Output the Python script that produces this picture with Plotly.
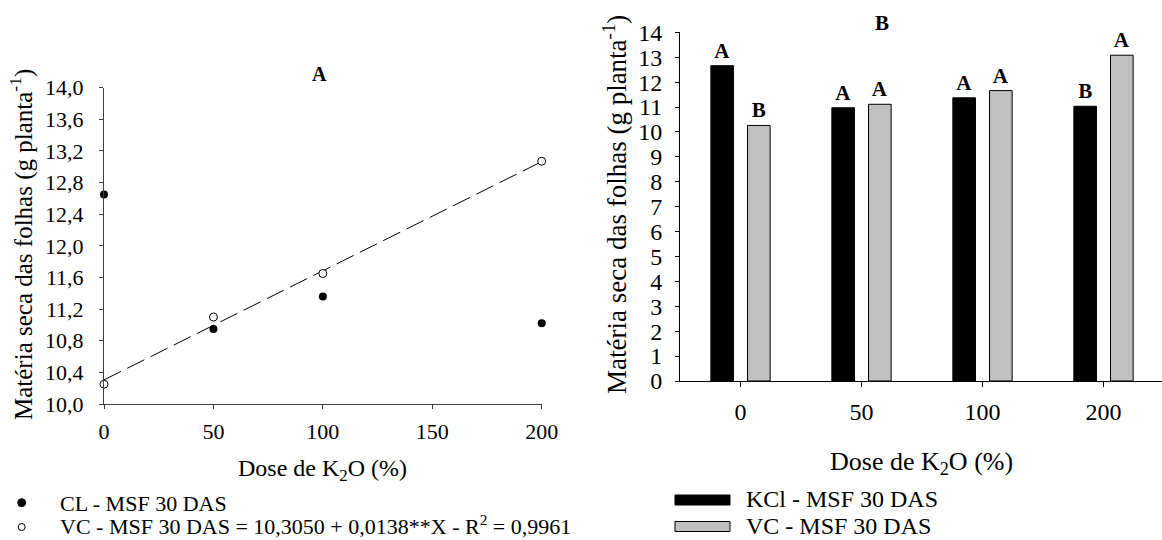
import plotly.graph_objects as go

# ---------------- data ----------------
doses_num = [0, 50, 100, 200]
cl_msf = [12.65, 10.95, 11.36, 11.02]          # CL - MSF 30 DAS (panel A, filled)
vc_msf = [10.25, 11.10, 11.65, 13.07]          # VC - MSF 30 DAS (panel A, open)
fit_x = [0, 200]
fit_y = [10.305, 13.065]                        # 10,3050 + 0,0138**X

dose_cats = ["0", "50", "100", "200"]
kcl_bar = [12.66, 10.97, 11.37, 11.03]
vc_bar = [10.26, 11.11, 11.66, 13.08]
kcl_letters = ["A", "A", "A", "B"]
vc_letters = ["B", "A", "A", "A"]

left_yticks = [10.0, 10.4, 10.8, 11.2, 11.6, 12.0, 12.4, 12.8, 13.2, 13.6, 14.0]
left_yticklabels = ["10,0", "10,4", "10,8", "11,2", "11,6", "12,0", "12,4", "12,8", "13,2", "13,6", "14,0"]
left_xticks = [0, 50, 100, 150, 200]
right_yticks = list(range(0, 15))

legend_left = ["CL - MSF 30 DAS", "VC - MSF 30 DAS = 10,3050 + 0,0138**X - R<sup>2</sup> = 0,9961"]
legend_right = ["KCl - MSF 30 DAS", "VC - MSF 30 DAS"]

# ---------------- layout helpers ----------------
W, H = 1162, 540
FONT = "Liberation Serif"


def px(x):
    return x / W


def py(y):
    return 1 - y / H


fig = go.Figure()

# Panel A
fig.add_trace(go.Scatter(x=fit_x, y=fit_y, mode="lines",
                         line=dict(color="black", width=1, dash="19px,7px"),
                         xaxis="x", yaxis="y", showlegend=False, hoverinfo="skip"))
fig.add_trace(go.Scatter(x=doses_num, y=cl_msf, mode="markers", name="CL - MSF 30 DAS",
                         marker=dict(symbol="circle", size=8, color="black"),
                         xaxis="x", yaxis="y", showlegend=False, cliponaxis=False))
fig.add_trace(go.Scatter(x=doses_num, y=vc_msf, mode="markers", name="VC - MSF 30 DAS",
                         marker=dict(symbol="circle", size=8, color="white",
                                     line=dict(color="black", width=1)),
                         xaxis="x", yaxis="y", showlegend=False, cliponaxis=False))

# Panel B
fig.add_trace(go.Bar(x=dose_cats, y=kcl_bar, name="KCl - MSF 30 DAS",
                     marker=dict(color="black", line=dict(color="black", width=1)),
                     width=0.187, offset=-0.245,
                     text=kcl_letters, textposition="outside", cliponaxis=False,
                     textfont=dict(family=FONT, size=21, color="black", weight="bold"),
                     xaxis="x2", yaxis="y2", showlegend=False))
fig.add_trace(go.Bar(x=dose_cats, y=vc_bar, name="VC - MSF 30 DAS",
                     marker=dict(color="#c0c0c0", line=dict(color="black", width=1)),
                     width=0.187, offset=0.058,
                     text=vc_letters, textposition="outside", cliponaxis=False,
                     textfont=dict(family=FONT, size=21, color="black", weight="bold"),
                     xaxis="x2", yaxis="y2", showlegend=False))

axis_common = dict(showgrid=False, zeroline=False, showline=True, ticks="outside",
                   mirror=False, automargin=False)

fig.update_layout(
    width=W, height=H,
    margin=dict(l=0, r=0, t=0, b=0, autoexpand=False),
    paper_bgcolor="white", plot_bgcolor="white",
    font=dict(family=FONT, color="black"),
    barmode="overlay",
    xaxis=dict(domain=[px(104), px(541.7)], range=[0, 200], tickvals=left_xticks,
               ticklen=4, linecolor="#404040", tickcolor="#404040", linewidth=1,
               ticklabelstandoff=4,
               tickfont=dict(size=22, family=FONT), anchor="y", **axis_common),
    yaxis=dict(domain=[py(404), py(87.7)], range=[10, 14], tickvals=left_yticks,
               ticktext=left_yticklabels, ticklen=4, linecolor="#404040",
               tickcolor="#404040", linewidth=1, ticklabelstandoff=11,
               tickfont=dict(size=22, family=FONT), anchor="x", **axis_common),
    xaxis2=dict(domain=[px(680), 1.0], range=[-0.5, 3.4835], type="category",
                ticklen=5, linecolor="black", tickcolor="black", linewidth=1,
                ticklabelstandoff=4,
                tickfont=dict(size=24, family=FONT), anchor="y2", **axis_common),
    yaxis2=dict(domain=[py(381), py(32.3)], range=[0, 14], tickvals=right_yticks,
                ticklen=4, linecolor="black", tickcolor="black", linewidth=1,
                ticklabelstandoff=8,
                tickfont=dict(size=24, family=FONT), anchor="x2", **axis_common),
)

ann = []


def add_text(text, x, y, size, bold=False, angle=0, xanchor="center", yanchor="middle"):
    ann.append(dict(text=text, x=px(x), y=py(y), xref="paper", yref="paper",
                    showarrow=False, xanchor=xanchor, yanchor=yanchor,
                    textangle=angle, borderpad=0,
                    font=dict(family=FONT, size=size, color="black",
                              weight="bold" if bold else "normal")))


# titles
add_text("A", 320, 74, 20, bold=True)
add_text("B", 882, 23, 21, bold=True)
add_text("Matéria seca das folhas (g planta<sup>-1</sup>)", 21, 245, 25, angle=-90)
add_text("Dose de K<sub>2</sub>O (%)", 322.5, 470, 24)
add_text("Matéria seca das folhas (g planta<sup>-1</sup>)", 615, 205, 27, angle=-90)
add_text("Dose de K<sub>2</sub>O (%)", 921.7, 463, 26)

# left legend
add_text(legend_left[0], 59.3, 503, 22, xanchor="left")
add_text(legend_left[1], 59.3, 540, 22, xanchor="left", yanchor="bottom")
# right legend
add_text(legend_right[0], 745, 499, 24, xanchor="left")
add_text(legend_right[1], 745, 540, 24, xanchor="left", yanchor="bottom")

shapes = [
    dict(type="circle", xref="paper", yref="paper", x0=px(17.7), x1=px(25.7),
         y0=py(498.7), y1=py(506.7), fillcolor="black", line=dict(color="black", width=1)),
    dict(type="circle", xref="paper", yref="paper", x0=px(18.2), x1=px(25.2),
         y0=py(523.5), y1=py(530.5), fillcolor="white", line=dict(color="black", width=1)),
    dict(type="rect", xref="paper", yref="paper", x0=px(675), x1=px(730),
         y0=py(495), y1=py(505), fillcolor="black", line=dict(color="black", width=1)),
    dict(type="rect", xref="paper", yref="paper", x0=px(675), x1=px(730),
         y0=py(521.5), y1=py(531.5), fillcolor="#c0c0c0", line=dict(color="black", width=1)),
]

fig.update_layout(annotations=ann, shapes=shapes)
fig.write_html("out.html")
